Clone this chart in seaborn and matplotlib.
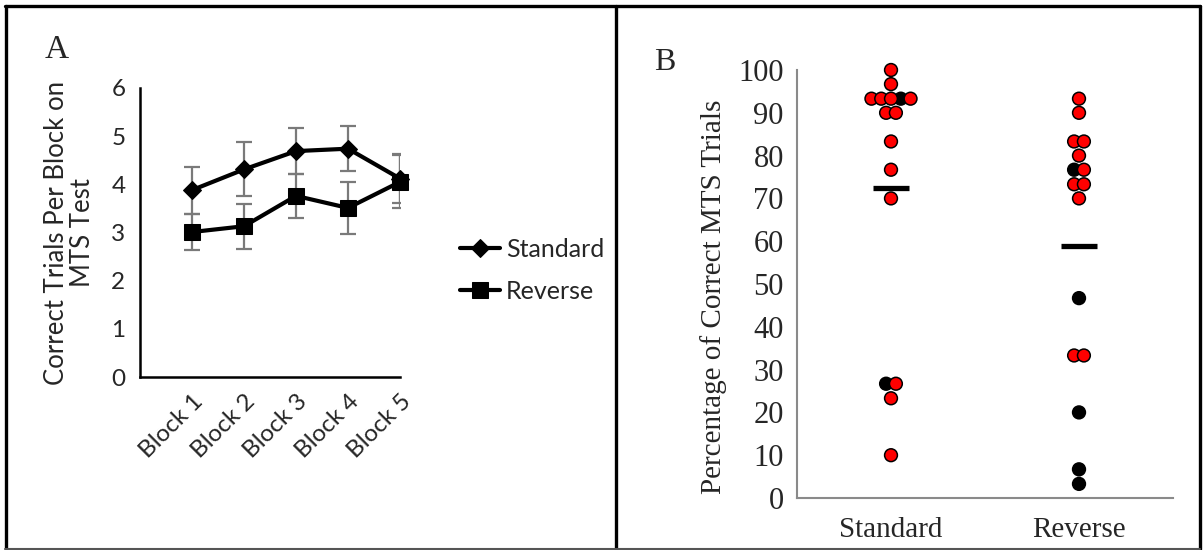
import numpy as np
import pandas as pd
import matplotlib
matplotlib.use("Agg")
import matplotlib.pyplot as plt
from matplotlib.lines import Line2D
import seaborn as sns

# Panel A: correct trials per block (mean and standard error)
blocks = ["Block 1", "Block 2", "Block 3", "Block 4", "Block 5"]
standard_mean = [3.88, 4.31, 4.69, 4.74, 4.12]
standard_se = [0.49, 0.56, 0.48, 0.47, 0.50]
reverse_mean = [3.01, 3.13, 3.76, 3.51, 4.05]
reverse_se = [0.37, 0.47, 0.46, 0.54, 0.55]

# Panel B: percentage of correct MTS trials per participant
conditions = ["Standard", "Reverse"]
standard_pct = [100, 96.7, 93.3, 93.3, 93.3, 93.3, 93.3, 90, 90, 83.3, 76.7,
                70, 26.7, 26.7, 23.3, 10]
standard_red = [True, True, True, True, True, False, True, True, True, True,
                True, True, False, True, True, True]
reverse_pct = [93.3, 90, 83.3, 83.3, 80, 76.7, 76.7, 73.3, 73.3, 70, 46.7,
               33.3, 33.3, 20, 6.7, 3.3]
reverse_red = [True, True, True, True, True, False, True, True, True, True,
               False, True, True, False, False, False]

sns.set_theme(style="white")
plt.rcParams["font.family"] = ["Lato", "DejaVu Sans"]
serif = ["Liberation Serif", "DejaVu Serif"]

W, H = 1203, 550
fig = plt.figure(figsize=(W / 100, H / 100), dpi=100)

# ---------------- Panel A ----------------
axA = fig.add_axes([140 / W, 1 - 377 / H, 260 / W, 289 / H])
pos = np.arange(1, len(blocks) + 1)

axA.errorbar(pos, standard_mean, yerr=standard_se, fmt="none",
             ecolor="#7a7a7a", elinewidth=1.6, capsize=6, capthick=1.6, zorder=1)
axA.errorbar(pos, reverse_mean, yerr=reverse_se, fmt="none",
             ecolor="#7a7a7a", elinewidth=1.6, capsize=6, capthick=1.6, zorder=1)

sns.lineplot(x=pos, y=standard_mean, ax=axA, color="black", linewidth=3,
             marker="D", markersize=9, markeredgecolor="black",
             label="Standard", zorder=3, clip_on=False)
sns.lineplot(x=pos, y=reverse_mean, ax=axA, color="black", linewidth=3,
             marker="s", markersize=11, markeredgecolor="black",
             label="Reverse", zorder=3, clip_on=False)

axA.set_xlim(0, len(blocks))
axA.set_ylim(0, 6)
axA.set_yticks(range(0, 7))
axA.set_xticks(range(0, len(blocks) + 1))
axA.set_xticklabels([""] + blocks, rotation=45, ha="right",
                    rotation_mode="anchor")
axA.tick_params(axis="both", direction="inout", length=11, width=1.5,
                color="black", labelsize=17.5, pad=5)
axA.tick_params(axis="x", pad=4)
for side in ["top", "right"]:
    axA.spines[side].set_visible(False)
for side in ["left", "bottom"]:
    axA.spines[side].set_color("black")
    axA.spines[side].set_linewidth(1.8)
axA.set_xlabel("")
axA.set_ylabel("Correct Trials Per Block on\nMTS Test", fontsize=18.5,
               linespacing=1.05, labelpad=12)

handles, labels = axA.get_legend_handles_labels()
axA.legend(handles, labels, loc="center left",
           bbox_to_anchor=(460 / W, 1 - 270.5 / H),
           bbox_transform=fig.transFigure, frameon=False, fontsize=18,
           handlelength=1.6, handletextpad=0.25, labelspacing=0.75,
           borderpad=0, borderaxespad=0)

fig.text(57 / W, 1 - 50 / H, "A", fontsize=24, ha="center", va="center",
         family=serif)

# ---------------- Panel B ----------------
dfB = pd.DataFrame({
    "condition": ["Standard"] * len(standard_pct) + ["Reverse"] * len(reverse_pct),
    "pct": standard_pct + reverse_pct,
    "red": standard_red + reverse_red,
})
dfB["cat"] = dfB["condition"].map({c: i for i, c in enumerate(conditions)})
grp = dfB.groupby(["condition", "pct"], sort=False)
dfB["rank"] = grp.cumcount()
dfB["n"] = grp["pct"].transform("size")
dfB["xpos"] = dfB["cat"] + (dfB["rank"] - (dfB["n"] - 1) / 2) * 0.052
dfB = dfB.sort_values("red", kind="stable")

axB = fig.add_axes([797 / W, 1 - 498 / H, 376 / W, 428 / H])
sns.scatterplot(data=dfB, x="xpos", y="pct", hue="red",
                palette={True: "#ff0000", False: "black"}, s=85,
                edgecolor="black", linewidth=1.1, legend=False, ax=axB,
                zorder=3, clip_on=False)

means = dfB.groupby("cat")["pct"].mean()
axB.hlines(means.values, means.index - 0.096, means.index + 0.096,
           color="black", linewidth=3.8, zorder=4)

gray = "#8a8a8a"
axB.set_xlim(-0.5, len(conditions) - 0.5)
axB.set_ylim(0, 100)
axB.set_yticks(range(0, 101, 10))
axB.set_xticks(range(len(conditions)))
axB.set_xticklabels(conditions)
axB.set_xticks(np.arange(-0.5, len(conditions), 1.0), minor=True)
for lab in axB.get_xticklabels() + axB.get_yticklabels():
    lab.set_family(serif)
axB.tick_params(axis="y", direction="out", length=6.5, width=1.3,
                color=gray, labelsize=22, pad=3)
axB.tick_params(axis="x", which="major", length=0, labelsize=21, pad=14)
axB.tick_params(axis="x", which="minor", direction="out", length=6,
                width=1.3, color=gray)
for side in ["top", "right"]:
    axB.spines[side].set_visible(False)
for side in ["left", "bottom"]:
    axB.spines[side].set_color(gray)
    axB.spines[side].set_linewidth(1.5)
axB.set_xlabel("")
axB.set_ylabel("Percentage of Correct MTS Trials", fontsize=21,
               family=serif)
axB.yaxis.set_label_coords(-0.185, 0.47)

fig.text(665 / W, 1 - 62 / H, "B", fontsize=23, ha="center", va="center",
         family=serif)

# ---------------- Panel frames ----------------
fig.add_artist(Line2D([5 / W, 1200 / W], [1 - 6 / H, 1 - 6 / H],
                      transform=fig.transFigure, color="black", lw=2.4))
fig.add_artist(Line2D([6 / W, 6 / W], [1 - 6 / H, 1 - 549 / H],
                      transform=fig.transFigure, color="black", lw=2.4))
fig.add_artist(Line2D([1200 / W, 1200 / W], [1 - 6 / H, 1 - 549 / H],
                      transform=fig.transFigure, color="black", lw=2.4))
fig.add_artist(Line2D([616 / W, 616 / W], [1 - 6 / H, 1 - 549 / H],
                      transform=fig.transFigure, color="black", lw=2.4))
fig.add_artist(Line2D([5 / W, 1200 / W], [1 - 549 / H, 1 - 549 / H],
                      transform=fig.transFigure, color="#555555", lw=1.5))

fig.savefig("out.png", dpi=100)
